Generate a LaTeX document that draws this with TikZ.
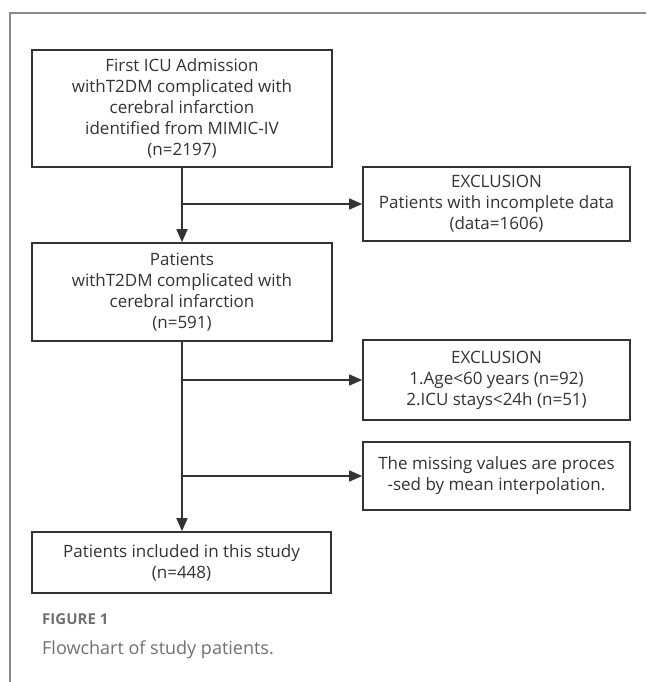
\documentclass[tikz,border=0pt]{standalone}
\usepackage{fontspec}
\setmainfont{Open Sans}
\usetikzlibrary{arrows.meta}
\definecolor{boxline}{HTML}{333333}
\definecolor{framegray}{HTML}{8A8A8A}
\definecolor{capgray}{HTML}{707070}

\begin{document}
\begin{tikzpicture}[x=1pt,y=-1pt,
  box/.style={draw=boxline, line width=1.6pt, align=center, inner sep=0pt,
    text=boxline, font=\fontsize{17}{21}\selectfont},
  mainbox/.style={box, minimum width=300pt},
  sidebox/.style={box, minimum width=267pt},
  arr/.style={-{Triangle[length=13pt,width=11pt]}, draw=boxline, line width=1.6pt}]
\useasboundingbox (0,0) rectangle (646,682);
\draw[framegray, line width=1.2pt] (10,682) -- (10,13) -- (646,13);
% main column
\node[mainbox, minimum height=117pt] (first) at (182,108.5) {First ICU Admission\\withT2DM complicated with\\cerebral infarction\\identified from MIMIC-IV\\(n=2197)};
\node[mainbox, minimum height=98pt] (patients) at (182,292) {Patients\\withT2DM complicated with\\cerebral infarction\\(n=591)};
\node[mainbox, minimum width=299pt, minimum height=61pt] (included) at (181.5,562.5) {Patients included in this study\\(n=448)};
% exclusions
\node[sidebox, minimum height=74pt] (exclData) at (496.5,204) {EXCLUSION\\Patients with incomplete data\\(data=1606)};
\node[sidebox, minimum height=80pt] (exclAge) at (496.5,380) {EXCLUSION\\1.Age<60 years (n=92)\\2.ICU stays<24h (n=51)};
\node[sidebox, minimum height=68pt] (missing) at (496.5,476) {The missing values are proces\\-sed by mean interpolation.};
% connectors
\draw[arr] (first) -- (patients);
\draw[arr] (first.south |- exclData.west) -- (exclData.west);
\draw[arr] (patients.south) -- (patients.south |- included.north);
\draw[arr] (patients.south |- exclAge.west) -- (exclAge.west);
\draw[arr] (patients.south |- missing.west) -- (missing.west);
% caption
\node[anchor=west, inner sep=0pt, text=capgray, font=\fontsize{15}{18}\selectfont\bfseries] (figNo) at (42,619) {FIGURE 1};
\node[anchor=west, inner sep=0pt, text=capgray, font=\fontsize{18}{22}\selectfont] (figCap) at (42,650) {Flowchart of study patients.};
\end{tikzpicture}
\end{document}
